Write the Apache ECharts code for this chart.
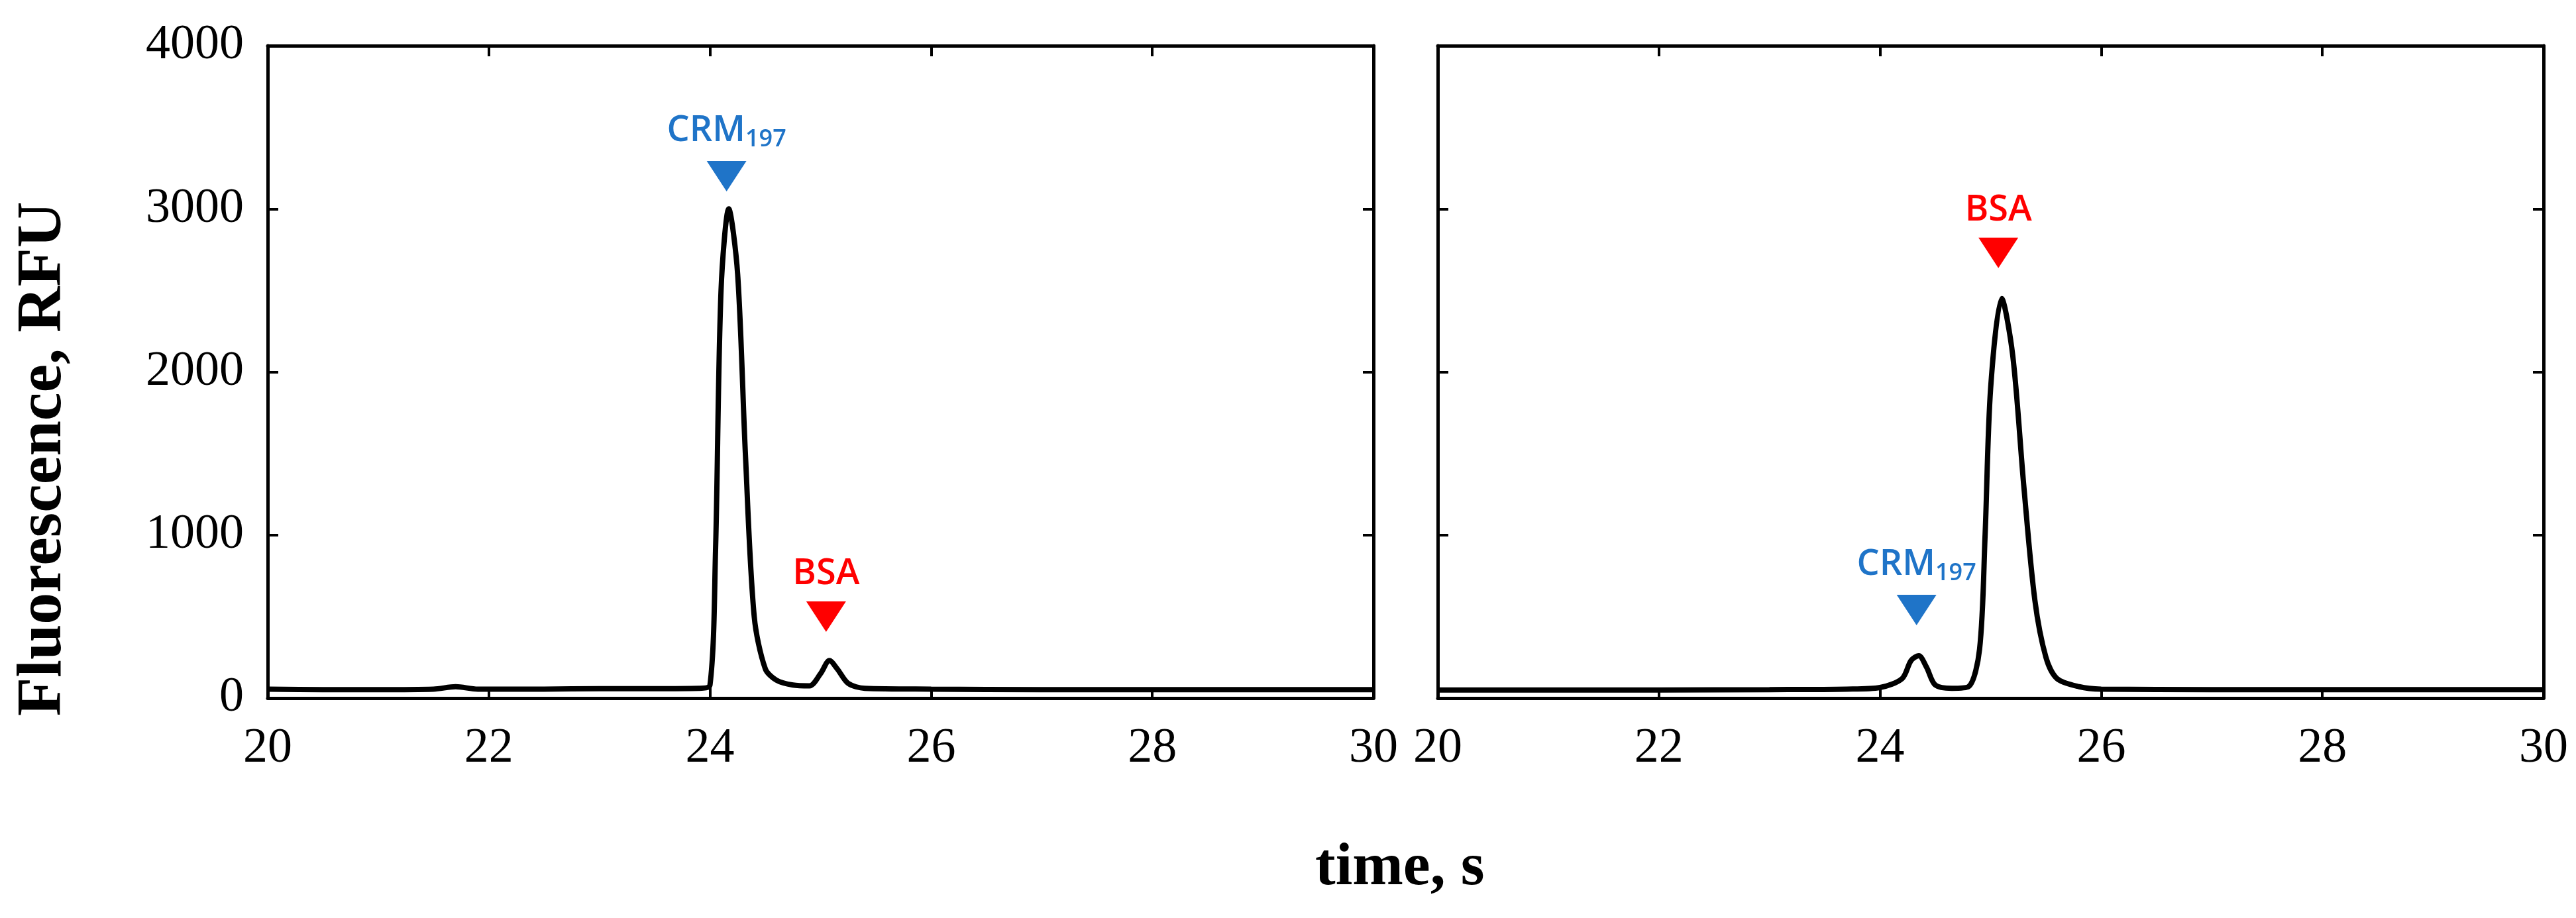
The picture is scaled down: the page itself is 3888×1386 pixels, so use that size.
<!DOCTYPE html>
<html><head><meta charset="utf-8">
<script src="https://cdn.jsdelivr.net/npm/echarts@6/dist/echarts.min.js"></script>
<style>html,body{margin:0;background:#fff}#c{width:3888px;height:1386px}</style>
</head><body><div id="c"></div>
<script>
// left panel: CRM197 dominant
var t1 = [20, 20.5, 21, 21.5, 21.7, 21.9, 22.5, 23, 23.5, 23.9, 24.0, 24.05, 24.1, 24.17, 24.25, 24.32, 24.4, 24.5, 24.6, 24.75, 24.9, 25.0, 25.08, 25.15, 25.25, 25.4, 26, 27, 28, 29, 30];
var f1 = [55, 52, 52, 55, 70, 55, 55, 58, 58, 60, 80, 900, 2500, 3000, 2600, 1500, 500, 180, 110, 80, 75, 150, 230, 180, 90, 60, 55, 52, 52, 52, 52];
// right panel: BSA dominant
var t2 = [20, 21, 22, 23, 23.7, 24.0, 24.2, 24.28, 24.35, 24.42, 24.5, 24.65, 24.8, 24.9, 24.95, 25.0, 25.1, 25.2, 25.3, 25.4, 25.5, 25.6, 25.8, 26, 27, 28, 29, 30];
var f2 = [50, 50, 50, 52, 55, 65, 120, 230, 260, 190, 80, 60, 70, 300, 1000, 1900, 2450, 2100, 1300, 600, 250, 120, 70, 55, 52, 52, 52, 52];
// peak markers [time, y] per panel
var crmMark = [[24.15, 3200], [24.33, 540]];
var bsaMark = [[25.05, 500], [25.07, 2730]];

var chart = echarts.init(document.getElementById('c'));
var font = 'Liberation Serif';
function pairs(t, f) { return t.map(function (x, i) { return [x, f[i]]; }); }
function xAx(g, pos, showLabel) {
  return {
    type: 'value', gridIndex: g, position: pos, min: 20, max: 30, interval: 2,
    axisLine: { onZero: false, lineStyle: { color: '#000', width: 5 } },
    axisTick: { inside: true, length: 16, lineStyle: { color: '#000', width: 4 } },
    axisLabel: { show: showLabel, margin: 40, fontFamily: font, fontSize: 74, color: '#000' },
    splitLine: { show: false }
  };
}
function yAx(g, pos, showLabel) {
  return {
    type: 'value', gridIndex: g, position: pos, min: 0, max: 4000, interval: 1000,
    axisLine: { lineStyle: { color: '#000', width: 5 } },
    axisTick: { inside: true, length: 16, lineStyle: { color: '#000', width: 4 } },
    axisLabel: { show: showLabel, margin: 36, fontFamily: font, fontSize: 74, color: '#000',
      formatter: function (v) { return String(v); } },
    splitLine: { show: false }
  };
}
function marker(name, color, data, xi, rich) {
  return {
    type: 'scatter', xAxisIndex: xi, yAxisIndex: xi, symbol: 'triangle', symbolRotate: 180,
    symbolSize: [60, 46], itemStyle: { color: color, opacity: 1 }, data: data,
    label: {
      show: true, position: 'top', distance: 14, formatter: name, color: color,
      fontFamily: 'Open Sans', fontWeight: 600, fontSize: 54, rich: rich
    }
  };
}
var crmRich = { s: { fontFamily: 'Open Sans', fontWeight: 600, fontSize: 36, color: '#1f74c8', padding: [26, 0, 0, 0] } };
var option = {
  animation: false,
  grid: [
    { left: 404, right: 1815, top: 69, height: 985 },
    { left: 2170, right: 49, top: 69, height: 985 }
  ],
  xAxis: [xAx(0, 'bottom', true), xAx(1, 'bottom', true), xAx(0, 'top', false), xAx(1, 'top', false)],
  yAxis: [yAx(0, 'left', true), yAx(1, 'left', false), yAx(0, 'right', false), yAx(1, 'right', false)],
  graphic: [
    { type: 'text', left: 18, top: 'middle', style: { text: 'Fluorescence, RFU', font: 'bold 96px "Liberation Serif"', fill: '#000' }, rotation: Math.PI / 2 },
    { type: 'text', left: 1985, top: 1265, style: { text: 'time, s', font: 'bold 92px "Liberation Serif"', fill: '#000' } }
  ],
  series: [
    { type: 'line', xAxisIndex: 0, yAxisIndex: 0, data: pairs(t1, f1), smooth: 0.3, showSymbol: false, lineStyle: { color: '#000', width: 8 } },
    { type: 'line', xAxisIndex: 1, yAxisIndex: 1, data: pairs(t2, f2), smooth: 0.3, showSymbol: false, lineStyle: { color: '#000', width: 8 } },
    marker('CRM{s|197}', '#1f74c8', [crmMark[0]], 0, crmRich),
    marker('CRM{s|197}', '#1f74c8', [crmMark[1]], 1, crmRich),
    marker('BSA', '#ff0000', [bsaMark[0]], 0),
    marker('BSA', '#ff0000', [bsaMark[1]], 1)
  ]
};
chart.setOption(option);
</script></body></html>
